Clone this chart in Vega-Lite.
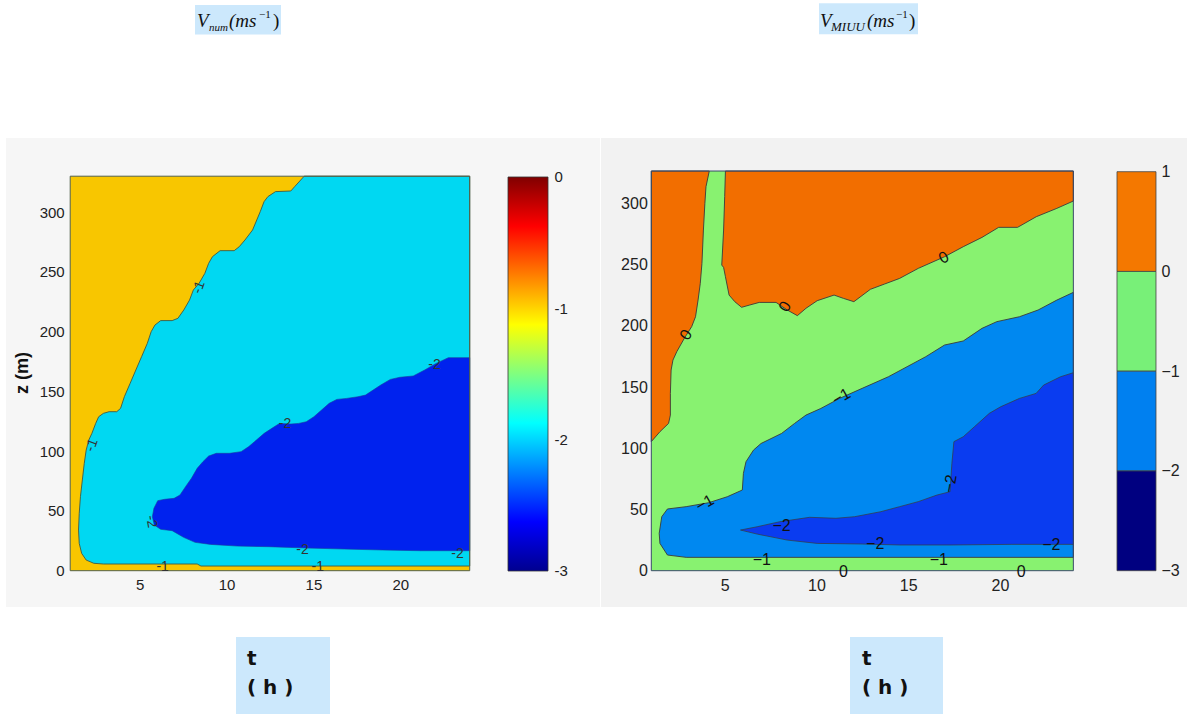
{
"$schema": "https://vega.github.io/schema/vega-lite/v6.json",
"background": "#ffffff",
"padding": 0,
"spacing": 0,
"bounds": "flush",
"config": {
  "view": {"stroke": null},
  "axis": {"grid": false, "domain": false, "ticks": false, "labelFont": "Liberation Sans", "labelColor": "#222222"}
},
"datasets": {
  "left_regions": [
    {"band":"L -1..0","t":1,"z":0},{"band":"L -1..0","t":24,"z":0},{"band":"L -1..0","t":24,"z":330},{"band":"L -1..0","t":1,"z":330},{"band":"L -1..0","t":1,"z":0},
    {"band":"L -2..-1","t":14.47,"z":330},{"band":"L -2..-1","t":13.92,"z":321.2},{"band":"L -2..-1","t":13.7,"z":317.6},{"band":"L -2..-1","t":12.82,"z":317.1},{"band":"L -2..-1","t":12.38,"z":312.9},{"band":"L -2..-1","t":12.16,"z":308.7},{"band":"L -2..-1","t":11.94,"z":300.3},{"band":"L -2..-1","t":11.5,"z":285},{"band":"L -2..-1","t":11.06,"z":276.6},{"band":"L -2..-1","t":10.73,"z":271},{"band":"L -2..-1","t":10.44,"z":267.7},{"band":"L -2..-1","t":9.63,"z":267.7},{"band":"L -2..-1","t":9.19,"z":262.7},{"band":"L -2..-1","t":8.97,"z":257.1},{"band":"L -2..-1","t":8.75,"z":248.7},{"band":"L -2..-1","t":8.42,"z":240.4},{"band":"L -2..-1","t":8.09,"z":234.8},{"band":"L -2..-1","t":7.87,"z":226.4},{"band":"L -2..-1","t":7.54,"z":218.1},{"band":"L -2..-1","t":7.2,"z":211.1},{"band":"L -2..-1","t":6.87,"z":209.2},{"band":"L -2..-1","t":6.21,"z":209.2},{"band":"L -2..-1","t":5.88,"z":205.5},{"band":"L -2..-1","t":5.66,"z":199.9},{"band":"L -2..-1","t":5.44,"z":190.2},{"band":"L -2..-1","t":5.11,"z":179},{"band":"L -2..-1","t":4.78,"z":167.9},{"band":"L -2..-1","t":4.45,"z":156.7},{"band":"L -2..-1","t":4.12,"z":145.6},{"band":"L -2..-1","t":3.9,"z":135.8},{"band":"L -2..-1","t":3.68,"z":133},{"band":"L -2..-1","t":3.24,"z":133},{"band":"L -2..-1","t":2.91,"z":131.6},{"band":"L -2..-1","t":2.64,"z":128.8},{"band":"L -2..-1","t":2.47,"z":123.3},{"band":"L -2..-1","t":2.25,"z":114.9},{"band":"L -2..-1","t":2.07,"z":109.3},{"band":"L -2..-1","t":1.92,"z":100.9},{"band":"L -2..-1","t":1.81,"z":89.8},{"band":"L -2..-1","t":1.7,"z":75.9},{"band":"L -2..-1","t":1.59,"z":61.9},{"band":"L -2..-1","t":1.52,"z":48},{"band":"L -2..-1","t":1.48,"z":34},{"band":"L -2..-1","t":1.52,"z":22.9},{"band":"L -2..-1","t":1.66,"z":14.5},{"band":"L -2..-1","t":1.92,"z":8.9},{"band":"L -2..-1","t":2.36,"z":6.2},{"band":"L -2..-1","t":2.91,"z":5.6},{"band":"L -2..-1","t":8.31,"z":5.6},{"band":"L -2..-1","t":8.53,"z":3.9},{"band":"L -2..-1","t":24,"z":3.9},{"band":"L -2..-1","t":24,"z":330},{"band":"L -2..-1","t":14.47,"z":330},
    {"band":"L -3..-2","t":24,"z":178.2},{"band":"L -3..-2","t":22.77,"z":178.2},{"band":"L -3..-2","t":22.07,"z":173.4},{"band":"L -3..-2","t":21.41,"z":167.9},{"band":"L -3..-2","t":20.75,"z":162.9},{"band":"L -3..-2","t":19.98,"z":161.8},{"band":"L -3..-2","t":19.43,"z":160},{"band":"L -3..-2","t":18.88,"z":155.3},{"band":"L -3..-2","t":18.44,"z":151.1},{"band":"L -3..-2","t":18,"z":146.9},{"band":"L -3..-2","t":17.56,"z":145.5},{"band":"L -3..-2","t":16.9,"z":144.1},{"band":"L -3..-2","t":16.35,"z":143.3},{"band":"L -3..-2","t":15.91,"z":140},{"band":"L -3..-2","t":15.47,"z":134.4},{"band":"L -3..-2","t":15.03,"z":128.8},{"band":"L -3..-2","t":14.59,"z":124.6},{"band":"L -3..-2","t":14.15,"z":123.2},{"band":"L -3..-2","t":13.71,"z":122.7},{"band":"L -3..-2","t":13.05,"z":123.2},{"band":"L -3..-2","t":12.61,"z":119.1},{"band":"L -3..-2","t":12.17,"z":114.9},{"band":"L -3..-2","t":11.72,"z":109.3},{"band":"L -3..-2","t":11.28,"z":103.8},{"band":"L -3..-2","t":10.84,"z":99.6},{"band":"L -3..-2","t":10.18,"z":98.2},{"band":"L -3..-2","t":9.41,"z":98.2},{"band":"L -3..-2","t":8.97,"z":95.9},{"band":"L -3..-2","t":8.64,"z":91.2},{"band":"L -3..-2","t":8.31,"z":85.6},{"band":"L -3..-2","t":7.98,"z":77.3},{"band":"L -3..-2","t":7.64,"z":70.3},{"band":"L -3..-2","t":7.32,"z":63.3},{"band":"L -3..-2","t":6.98,"z":60.5},{"band":"L -3..-2","t":6.43,"z":59.7},{"band":"L -3..-2","t":6.04,"z":58.6},{"band":"L -3..-2","t":5.82,"z":52.2},{"band":"L -3..-2","t":5.73,"z":45.2},{"band":"L -3..-2","t":5.84,"z":38.2},{"band":"L -3..-2","t":6.21,"z":34.6},{"band":"L -3..-2","t":6.87,"z":33.5},{"band":"L -3..-2","t":7.53,"z":27.9},{"band":"L -3..-2","t":8.19,"z":23.7},{"band":"L -3..-2","t":9.08,"z":22},{"band":"L -3..-2","t":10.62,"z":20.6},{"band":"L -3..-2","t":12.38,"z":20.1},{"band":"L -3..-2","t":14.59,"z":19},{"band":"L -3..-2","t":16.79,"z":18.1},{"band":"L -3..-2","t":18.99,"z":17.3},{"band":"L -3..-2","t":21.19,"z":16.7},{"band":"L -3..-2","t":24,"z":16.7},{"band":"L -3..-2","t":24,"z":178.2}
  ],
  "right_regions": [
    {"band":"R -1..0","t":1,"z":0},{"band":"R -1..0","t":24,"z":0},{"band":"R -1..0","t":24,"z":326.4},{"band":"R -1..0","t":1,"z":326.4},{"band":"R -1..0","t":1,"z":0},
    {"band":"R 0..1 a","t":1,"z":326.4},{"band":"R 0..1 a","t":4.16,"z":326.4},{"band":"R 0..1 a","t":3.98,"z":313.6},{"band":"R 0..1 a","t":3.92,"z":300},{"band":"R 0..1 a","t":3.84,"z":278.2},{"band":"R 0..1 a","t":3.76,"z":251},{"band":"R 0..1 a","t":3.67,"z":234.7},{"band":"R 0..1 a","t":3.55,"z":221.1},{"band":"R 0..1 a","t":3.41,"z":207.4},{"band":"R 0..1 a","t":3.2,"z":199.3},{"band":"R 0..1 a","t":2.8,"z":189.8},{"band":"R 0..1 a","t":2.39,"z":178.9},{"band":"R 0..1 a","t":2.18,"z":172},{"band":"R 0..1 a","t":2.08,"z":163.9},{"band":"R 0..1 a","t":2.04,"z":144.8},{"band":"R 0..1 a","t":2.04,"z":127.1},{"band":"R 0..1 a","t":1.94,"z":120.3},{"band":"R 0..1 a","t":1.47,"z":113.5},{"band":"R 0..1 a","t":1,"z":105.4},{"band":"R 0..1 a","t":1,"z":326.4},
    {"band":"R 0..1 b","t":5.04,"z":326.4},{"band":"R 0..1 b","t":5,"z":305.5},{"band":"R 0..1 b","t":4.94,"z":278.2},{"band":"R 0..1 b","t":4.84,"z":249.6},{"band":"R 0..1 b","t":4.94,"z":247.7},{"band":"R 0..1 b","t":5.04,"z":240.1},{"band":"R 0..1 b","t":5.24,"z":225.1},{"band":"R 0..1 b","t":5.55,"z":219.7},{"band":"R 0..1 b","t":5.92,"z":215.1},{"band":"R 0..1 b","t":6.37,"z":217},{"band":"R 0..1 b","t":6.88,"z":219.1},{"band":"R 0..1 b","t":7.8,"z":219.1},{"band":"R 0..1 b","t":8.41,"z":212.9},{"band":"R 0..1 b","t":8.96,"z":208.3},{"band":"R 0..1 b","t":9.43,"z":214.3},{"band":"R 0..1 b","t":10.04,"z":220.5},{"band":"R 0..1 b","t":10.96,"z":225.1},{"band":"R 0..1 b","t":11.47,"z":222.4},{"band":"R 0..1 b","t":12.04,"z":219.7},{"band":"R 0..1 b","t":12.94,"z":229.8},{"band":"R 0..1 b","t":13.71,"z":234.1},{"band":"R 0..1 b","t":14.53,"z":238.7},{"band":"R 0..1 b","t":15.55,"z":246.9},{"band":"R 0..1 b","t":16.98,"z":256.4},{"band":"R 0..1 b","t":18,"z":264.6},{"band":"R 0..1 b","t":19.02,"z":272.2},{"band":"R 0..1 b","t":19.93,"z":280.4},{"band":"R 0..1 b","t":20.96,"z":280.4},{"band":"R 0..1 b","t":21.98,"z":289.1},{"band":"R 0..1 b","t":23.1,"z":295.9},{"band":"R 0..1 b","t":24,"z":301.9},{"band":"R 0..1 b","t":24,"z":326.4},{"band":"R 0..1 b","t":5.04,"z":326.4},
    {"band":"R -2..-1","t":24,"z":227.3},{"band":"R -2..-1","t":23.1,"z":221},{"band":"R -2..-1","t":22.08,"z":212.9},{"band":"R -2..-1","t":21.06,"z":207.4},{"band":"R -2..-1","t":19.83,"z":203.4},{"band":"R -2..-1","t":19.02,"z":197.9},{"band":"R -2..-1","t":18,"z":187.6},{"band":"R -2..-1","t":16.98,"z":184.3},{"band":"R -2..-1","t":15.96,"z":174.8},{"band":"R -2..-1","t":14.94,"z":166.6},{"band":"R -2..-1","t":13.92,"z":158.4},{"band":"R -2..-1","t":12.49,"z":148.9},{"band":"R -2..-1","t":11.26,"z":140.7},{"band":"R -2..-1","t":10.24,"z":132.5},{"band":"R -2..-1","t":9.43,"z":127.1},{"band":"R -2..-1","t":8.81,"z":120.3},{"band":"R -2..-1","t":8.1,"z":112.1},{"band":"R -2..-1","t":6.98,"z":103.9},{"band":"R -2..-1","t":6.57,"z":98.5},{"band":"R -2..-1","t":6.16,"z":89},{"band":"R -2..-1","t":6.02,"z":79.5},{"band":"R -2..-1","t":5.96,"z":65.9},{"band":"R -2..-1","t":5.14,"z":60.4},{"band":"R -2..-1","t":4.12,"z":55.5},{"band":"R -2..-1","t":2.9,"z":52.3},{"band":"R -2..-1","t":1.88,"z":50.4},{"band":"R -2..-1","t":1.57,"z":44.1},{"band":"R -2..-1","t":1.43,"z":30.5},{"band":"R -2..-1","t":1.47,"z":22.3},{"band":"R -2..-1","t":1.88,"z":12.8},{"band":"R -2..-1","t":2.9,"z":10.9},{"band":"R -2..-1","t":24,"z":10.9},{"band":"R -2..-1","t":24,"z":227.3},
    {"band":"R -3..-2","t":24,"z":161.7},{"band":"R -3..-2","t":23.3,"z":158.4},{"band":"R -3..-2","t":22.38,"z":151.6},{"band":"R -3..-2","t":21.97,"z":144.8},{"band":"R -3..-2","t":21.06,"z":140.7},{"band":"R -3..-2","t":20.04,"z":133.9},{"band":"R -3..-2","t":19.42,"z":128.5},{"band":"R -3..-2","t":18.61,"z":117.6},{"band":"R -3..-2","t":18,"z":109.4},{"band":"R -3..-2","t":17.49,"z":105.4},{"band":"R -3..-2","t":17.38,"z":87.6},{"band":"R -3..-2","t":17.28,"z":64.5},{"band":"R -3..-2","t":16.57,"z":61.8},{"band":"R -3..-2","t":15.55,"z":56.4},{"band":"R -3..-2","t":14.53,"z":52.3},{"band":"R -3..-2","t":13.51,"z":48.2},{"band":"R -3..-2","t":12.08,"z":44.1},{"band":"R -3..-2","t":11.06,"z":42.8},{"band":"R -3..-2","t":9.63,"z":43.6},{"band":"R -3..-2","t":8,"z":40},{"band":"R -3..-2","t":6.77,"z":35.9},{"band":"R -3..-2","t":5.86,"z":33.2},{"band":"R -3..-2","t":6.77,"z":29.9},{"band":"R -3..-2","t":8.41,"z":25},{"band":"R -3..-2","t":10.04,"z":22.3},{"band":"R -3..-2","t":12.49,"z":21.8},{"band":"R -3..-2","t":14.53,"z":21},{"band":"R -3..-2","t":17.38,"z":21},{"band":"R -3..-2","t":20.65,"z":21.5},{"band":"R -3..-2","t":24,"z":21.5},{"band":"R -3..-2","t":24,"z":161.7}
  ],
  "left_labels_flat": [
    {"t":21.97,"z":172,"label":"-2"},{"t":13.37,"z":122.7,"label":"-2"},{"t":14.37,"z":17,"label":"-2"},{"t":23.3,"z":14,"label":"-2"},{"t":6.32,"z":3,"label":"-1"},{"t":15.25,"z":2.8,"label":"-1"}
  ],
  "left_labels_steep": [
    {"t":2.25,"z":105,"label":"-1"},{"t":8.42,"z":237,"label":"-1"}
  ],
  "left_labels_vert": [
    {"t":5.66,"z":41,"label":"-2"}
  ],
  "right_labels_flat": [
    {"t":8.1,"z":36.5,"label":"−2"},{"t":13.2,"z":21.8,"label":"−2"},{"t":22.8,"z":21,"label":"−2"},{"t":7.02,"z":8.7,"label":"−1"},{"t":16.67,"z":8.7,"label":"−1"},{"t":11.47,"z":-1,"label":"0"},{"t":21.16,"z":-1,"label":"0"}
  ],
  "right_labels_tilt": [
    {"t":11.36,"z":142,"label":"−1"},{"t":3.92,"z":55,"label":"−1"},{"t":16.94,"z":255.6,"label":"0"}
  ],
  "right_labels_steep": [
    {"t":2.9,"z":192.5,"label":"0"},{"t":8.3,"z":215.6,"label":"0"}
  ],
  "right_labels_vert": [
    {"t":17.3,"z":71,"label":"−2"}
  ],
  "left_cb": [{"lo":-3,"hi":0}],
  "right_cb": [
    {"lo":0,"hi":1,"band":"CB 0..1"},{"lo":-1,"hi":0,"band":"CB -1..0"},{"lo":-2,"hi":-1,"band":"CB -2..-1"},{"lo":-3,"hi":-2,"band":"CB -3..-2"}
  ]
},
"hconcat": [
  {
    "width": 600,
    "height": 714,
    "resolve": {"scale": {"x": "independent", "y": "independent"}},
    "layer": [
      {
        "layer": [
          {"data": {"values": [{}]}, "mark": {"type": "rect", "fill": "#f6f6f6"},
           "encoding": {"x": {"datum": -2.696, "type": "quantitative", "axis": null, "scale": {"domain": [-3.0415, 31.501], "nice": false, "zero": false}}, "x2": {"datum": 31.5}, "y": {"datum": -30.36, "type": "quantitative", "axis": null, "scale": {"domain": [-119.87, 477.38], "nice": false, "zero": false}}, "y2": {"datum": 361.9}}},
          {"data": {"values": [{}]}, "mark": {"type": "rect", "fill": "#cce8fc"},
           "encoding": {"x": {"datum": 8.185, "type": "quantitative", "axis": null}, "x2": {"datum": 13.136}, "y": {"datum": 448.5, "type": "quantitative", "axis": null}, "y2": {"datum": 473.2}}},
          {"data": {"values": [{}]}, "mark": {"type": "text", "text": "V", "align": "left", "baseline": "alphabetic", "font": "Liberation Serif", "fontStyle": "italic", "fontSize": 19, "color": "#111111"},
           "encoding": {"x": {"datum": 8.3, "type": "quantitative", "axis": null}, "y": {"datum": 454.8, "type": "quantitative", "axis": null}}},
          {"data": {"values": [{}]}, "mark": {"type": "text", "text": "num", "dx": 12, "dy": 4, "align": "left", "baseline": "alphabetic", "font": "Liberation Serif", "fontStyle": "italic", "fontSize": 11, "color": "#111111"},
           "encoding": {"x": {"datum": 8.3, "type": "quantitative", "axis": null}, "y": {"datum": 454.8, "type": "quantitative", "axis": null}}},
          {"data": {"values": [{}]}, "mark": {"type": "text", "text": "(ms", "dx": 32, "align": "left", "baseline": "alphabetic", "font": "Liberation Serif", "fontStyle": "italic", "fontSize": 19, "color": "#111111"},
           "encoding": {"x": {"datum": 8.3, "type": "quantitative", "axis": null}, "y": {"datum": 454.8, "type": "quantitative", "axis": null}}},
          {"data": {"values": [{}]}, "mark": {"type": "text", "text": "−1", "dx": 62, "dy": -9, "align": "left", "baseline": "alphabetic", "font": "Liberation Serif", "fontSize": 11, "color": "#111111"},
           "encoding": {"x": {"datum": 8.3, "type": "quantitative", "axis": null}, "y": {"datum": 454.8, "type": "quantitative", "axis": null}}},
          {"data": {"values": [{}]}, "mark": {"type": "text", "text": ")", "dx": 76, "align": "left", "baseline": "alphabetic", "font": "Liberation Serif", "fontSize": 19, "color": "#111111"},
           "encoding": {"x": {"datum": 8.3, "type": "quantitative", "axis": null}, "y": {"datum": 454.8, "type": "quantitative", "axis": null}}},
          {"data": {"values": [{}]}, "mark": {"type": "rect", "fill": "#cce8fc"},
           "encoding": {"x": {"datum": 10.545, "type": "quantitative", "axis": null}, "x2": {"datum": 15.957}, "y": {"datum": -119.8, "type": "quantitative", "axis": null}, "y2": {"datum": -55.46}}},
          {"data": {"values": [{}]}, "mark": {"type": "text", "text": ["t", "( h )"], "lineHeight": 29, "align": "left", "baseline": "alphabetic", "font": "DejaVu Sans", "fontWeight": "bold", "fontSize": 20, "color": "#111111"},
           "encoding": {"x": {"datum": 11.178, "type": "quantitative", "axis": null}, "y": {"datum": -78.88, "type": "quantitative", "axis": null}}},
          {"data": {"values": [{}]}, "mark": {"type": "text", "text": "z (m)", "angle": 270, "align": "center", "baseline": "middle", "font": "Liberation Sans", "fontWeight": "bold", "fontSize": 18, "color": "#111111"},
           "encoding": {"x": {"datum": -1.717, "type": "quantitative", "axis": null}, "y": {"datum": 165.3, "type": "quantitative", "axis": null}}},
          {"data": {"name": "left_regions"}, "transform": [{"filter": "datum.band === 'L -1..0'"}],
           "mark": {"type": "line", "filled": true, "interpolate": "linear", "strokeWidth": 0},
           "encoding": {
             "x": {"field": "t", "type": "quantitative", "axis": null},
             "y": {"field": "z", "type": "quantitative", "axis": null},
             "order": {"value": null},
             "color": {"field": "band", "type": "nominal", "legend": null, "scale": {"domain": ["L -1..0","L -2..-1","L -3..-2","R -1..0","R 0..1 a","R 0..1 b","R -2..-1","R -3..-2","CB 0..1","CB -1..0","CB -2..-1","CB -3..-2"], "range": ["#f8c600","#00d8f2","#0022ee","#88f270","#f26e00","#f26e00","#0088f0","#0a3cf0","#f47800","#78f078","#0080f0","#000080"]}}
           }},
          {"data": {"name": "left_regions"}, "transform": [{"filter": "datum.band === 'L -2..-1'"}],
           "mark": {"type": "line", "filled": true, "interpolate": "linear", "stroke": "#3f5a45", "strokeWidth": 0.9},
           "encoding": {
             "x": {"field": "t", "type": "quantitative", "axis": null},
             "y": {"field": "z", "type": "quantitative", "axis": null},
             "order": {"value": null},
             "color": {"field": "band", "type": "nominal", "legend": null, "scale": {"domain": ["L -1..0","L -2..-1","L -3..-2","R -1..0","R 0..1 a","R 0..1 b","R -2..-1","R -3..-2","CB 0..1","CB -1..0","CB -2..-1","CB -3..-2"], "range": ["#f8c600","#00d8f2","#0022ee","#88f270","#f26e00","#f26e00","#0088f0","#0a3cf0","#f47800","#78f078","#0080f0","#000080"]}}
           }},
          {"data": {"name": "left_regions"}, "transform": [{"filter": "datum.band === 'L -3..-2'"}],
           "mark": {"type": "line", "filled": true, "interpolate": "linear", "stroke": "#1a3a9a", "strokeWidth": 0.6},
           "encoding": {
             "x": {"field": "t", "type": "quantitative", "axis": null},
             "y": {"field": "z", "type": "quantitative", "axis": null},
             "order": {"value": null},
             "color": {"field": "band", "type": "nominal", "legend": null, "scale": {"domain": ["L -1..0","L -2..-1","L -3..-2","R -1..0","R 0..1 a","R 0..1 b","R -2..-1","R -3..-2","CB 0..1","CB -1..0","CB -2..-1","CB -3..-2"], "range": ["#f8c600","#00d8f2","#0022ee","#88f270","#f26e00","#f26e00","#0088f0","#0a3cf0","#f47800","#78f078","#0080f0","#000080"]}}
           }},
          {"data": {"values": [{}]}, "mark": {"type": "rect", "filled": false, "stroke": "#52604a", "strokeWidth": 1},
           "encoding": {"x": {"datum": 1, "type": "quantitative", "axis": null}, "x2": {"datum": 24}, "y": {"datum": 0, "type": "quantitative", "axis": null}, "y2": {"datum": 330}}},
          {"data": {"name": "left_labels_flat"}, "mark": {"type": "text", "align": "center", "baseline": "middle", "font": "Liberation Sans", "fontSize": 14, "color": "#333333"},
           "encoding": {"x": {"field": "t", "type": "quantitative", "axis": null}, "y": {"field": "z", "type": "quantitative", "axis": null}, "text": {"field": "label"}}},
          {"data": {"name": "left_labels_steep"}, "mark": {"type": "text", "angle": 290, "align": "center", "baseline": "middle", "font": "Liberation Sans", "fontSize": 14, "color": "#333333"},
           "encoding": {"x": {"field": "t", "type": "quantitative", "axis": null}, "y": {"field": "z", "type": "quantitative", "axis": null}, "text": {"field": "label"}}},
          {"data": {"name": "left_labels_vert"}, "mark": {"type": "text", "angle": 80, "align": "center", "baseline": "middle", "font": "Liberation Sans", "fontSize": 14, "color": "#333333"},
           "encoding": {"x": {"field": "t", "type": "quantitative", "axis": null}, "y": {"field": "z", "type": "quantitative", "axis": null}, "text": {"field": "label"}}}
        ]
      },
      {
        "layer": [
          {"data": {"values": [{}]}, "mark": {"type": "point", "opacity": 0},
           "encoding": {
             "x": {"datum": 1, "type": "quantitative", "scale": {"domain": [-3.0415, 31.501], "nice": false, "zero": false}, "axis": {"orient": "bottom", "offset": -143.3, "values": [5, 10, 15, 20], "labelFontSize": 15, "labelPadding": 7, "zindex": 3, "title": null}},
             "y": {"datum": 0, "type": "quantitative", "scale": {"domain": [-119.87, 477.38], "nice": false, "zero": false}, "axis": {"orient": "left", "offset": -70.2, "values": [0, 50, 100, 150, 200, 250, 300], "labelFontSize": 15, "labelPadding": 6, "zindex": 3, "title": null}}
           }}
        ]
      },
      {
        "layer": [
          {"data": {"name": "left_cb"},
           "mark": {"type": "rect", "stroke": "#333333", "strokeWidth": 0.8,
                    "fill": {"gradient": "linear", "x1": 0, "y1": 1, "x2": 0, "y2": 0,
                             "stops": [{"offset": 0, "color": "#00008f"}, {"offset": 0.125, "color": "#0000ff"}, {"offset": 0.375, "color": "#00ffff"}, {"offset": 0.625, "color": "#ffff00"}, {"offset": 0.875, "color": "#ff0000"}, {"offset": 1, "color": "#800000"}]}},
           "encoding": {
             "x": {"datum": 0, "type": "quantitative", "scale": {"domain": [-12.7, 2.3], "nice": false, "zero": false}, "axis": null},
             "x2": {"datum": 1},
             "y": {"field": "lo", "type": "quantitative", "scale": {"domain": [-4.0889, 1.3477], "nice": false, "zero": false}, "axis": {"orient": "right", "offset": -52, "values": [-3, -2, -1, 0], "labelExpr": "'' + datum.value", "labelFontSize": 15, "labelPadding": 6, "zindex": 3, "title": null}},
             "y2": {"field": "hi"}
           }}
        ]
      }
    ]
  },
  {
    "width": 587,
    "height": 714,
    "resolve": {"scale": {"x": "independent", "y": "independent"}},
    "layer": [
      {
        "layer": [
          {"data": {"values": [{}]}, "mark": {"type": "rect", "fill": "#f2f2f2"},
           "encoding": {"x": {"datum": -1.741, "type": "quantitative", "axis": null, "scale": {"domain": [-1.7956, 30.193], "nice": false, "zero": false}}, "x2": {"datum": 30.19}, "y": {"datum": -29.64, "type": "quantitative", "axis": null, "scale": {"domain": [-117.03, 466.07], "nice": false, "zero": false}}, "y2": {"datum": 353.4}}},
          {"data": {"values": [{}]}, "mark": {"type": "rect", "fill": "#cce8fc"},
           "encoding": {"x": {"datum": 10.139, "type": "quantitative", "axis": null}, "x2": {"datum": 15.534}, "y": {"datum": 438.1, "type": "quantitative", "axis": null}, "y2": {"datum": 463.4}}},
          {"data": {"values": [{}]}, "mark": {"type": "text", "text": "V", "align": "left", "baseline": "alphabetic", "font": "Liberation Serif", "fontStyle": "italic", "fontSize": 19, "color": "#111111"},
           "encoding": {"x": {"datum": 10.193, "type": "quantitative", "axis": null}, "y": {"datum": 444.3, "type": "quantitative", "axis": null}}},
          {"data": {"values": [{}]}, "mark": {"type": "text", "text": "MIUU", "dx": 11, "dy": 4, "align": "left", "baseline": "alphabetic", "font": "Liberation Serif", "fontStyle": "italic", "fontSize": 13, "color": "#111111"},
           "encoding": {"x": {"datum": 10.193, "type": "quantitative", "axis": null}, "y": {"datum": 444.3, "type": "quantitative", "axis": null}}},
          {"data": {"values": [{}]}, "mark": {"type": "text", "text": "(ms", "dx": 47, "align": "left", "baseline": "alphabetic", "font": "Liberation Serif", "fontStyle": "italic", "fontSize": 19, "color": "#111111"},
           "encoding": {"x": {"datum": 10.193, "type": "quantitative", "axis": null}, "y": {"datum": 444.3, "type": "quantitative", "axis": null}}},
          {"data": {"values": [{}]}, "mark": {"type": "text", "text": "−1", "dx": 76, "dy": -9, "align": "left", "baseline": "alphabetic", "font": "Liberation Serif", "fontSize": 11, "color": "#111111"},
           "encoding": {"x": {"datum": 10.193, "type": "quantitative", "axis": null}, "y": {"datum": 444.3, "type": "quantitative", "axis": null}}},
          {"data": {"values": [{}]}, "mark": {"type": "text", "text": ")", "dx": 89, "align": "left", "baseline": "alphabetic", "font": "Liberation Serif", "fontSize": 19, "color": "#111111"},
           "encoding": {"x": {"datum": 10.193, "type": "quantitative", "axis": null}, "y": {"datum": 444.3, "type": "quantitative", "axis": null}}},
          {"data": {"values": [{}]}, "mark": {"type": "rect", "fill": "#cce8fc"},
           "encoding": {"x": {"datum": 11.828, "type": "quantitative", "axis": null}, "x2": {"datum": 16.896}, "y": {"datum": -117.0, "type": "quantitative", "axis": null}, "y2": {"datum": -54.14}}},
          {"data": {"values": [{}]}, "mark": {"type": "text", "text": ["t", "( h )"], "lineHeight": 29, "align": "left", "baseline": "alphabetic", "font": "DejaVu Sans", "fontWeight": "bold", "fontSize": 20, "color": "#111111"},
           "encoding": {"x": {"datum": 12.482, "type": "quantitative", "axis": null}, "y": {"datum": -77.03, "type": "quantitative", "axis": null}}},
          {"data": {"name": "right_regions"}, "transform": [{"filter": "datum.band === 'R -1..0'"}],
           "mark": {"type": "line", "filled": true, "interpolate": "linear", "strokeWidth": 0},
           "encoding": {
             "x": {"field": "t", "type": "quantitative", "axis": null},
             "y": {"field": "z", "type": "quantitative", "axis": null},
             "order": {"value": null},
             "color": {"field": "band", "type": "nominal", "legend": null, "scale": {"domain": ["L -1..0","L -2..-1","L -3..-2","R -1..0","R 0..1 a","R 0..1 b","R -2..-1","R -3..-2","CB 0..1","CB -1..0","CB -2..-1","CB -3..-2"], "range": ["#f8c600","#00d8f2","#0022ee","#88f270","#f26e00","#f26e00","#0088f0","#0a3cf0","#f47800","#78f078","#0080f0","#000080"]}}
           }},
          {"data": {"name": "right_regions"}, "transform": [{"filter": "datum.band === 'R 0..1 a' || datum.band === 'R 0..1 b'"}],
           "mark": {"type": "line", "filled": true, "interpolate": "linear", "stroke": "#3a3a3a", "strokeWidth": 0.9},
           "encoding": {
             "x": {"field": "t", "type": "quantitative", "axis": null},
             "y": {"field": "z", "type": "quantitative", "axis": null},
             "order": {"value": null},
             "detail": {"field": "band"},
             "color": {"field": "band", "type": "nominal", "legend": null, "scale": {"domain": ["L -1..0","L -2..-1","L -3..-2","R -1..0","R 0..1 a","R 0..1 b","R -2..-1","R -3..-2","CB 0..1","CB -1..0","CB -2..-1","CB -3..-2"], "range": ["#f8c600","#00d8f2","#0022ee","#88f270","#f26e00","#f26e00","#0088f0","#0a3cf0","#f47800","#78f078","#0080f0","#000080"]}}
           }},
          {"data": {"name": "right_regions"}, "transform": [{"filter": "datum.band === 'R -2..-1'"}],
           "mark": {"type": "line", "filled": true, "interpolate": "linear", "stroke": "#3a3a3a", "strokeWidth": 0.9},
           "encoding": {
             "x": {"field": "t", "type": "quantitative", "axis": null},
             "y": {"field": "z", "type": "quantitative", "axis": null},
             "order": {"value": null},
             "color": {"field": "band", "type": "nominal", "legend": null, "scale": {"domain": ["L -1..0","L -2..-1","L -3..-2","R -1..0","R 0..1 a","R 0..1 b","R -2..-1","R -3..-2","CB 0..1","CB -1..0","CB -2..-1","CB -3..-2"], "range": ["#f8c600","#00d8f2","#0022ee","#88f270","#f26e00","#f26e00","#0088f0","#0a3cf0","#f47800","#78f078","#0080f0","#000080"]}}
           }},
          {"data": {"name": "right_regions"}, "transform": [{"filter": "datum.band === 'R -3..-2'"}],
           "mark": {"type": "line", "filled": true, "interpolate": "linear", "stroke": "#3a3a3a", "strokeWidth": 0.7},
           "encoding": {
             "x": {"field": "t", "type": "quantitative", "axis": null},
             "y": {"field": "z", "type": "quantitative", "axis": null},
             "order": {"value": null},
             "color": {"field": "band", "type": "nominal", "legend": null, "scale": {"domain": ["L -1..0","L -2..-1","L -3..-2","R -1..0","R 0..1 a","R 0..1 b","R -2..-1","R -3..-2","CB 0..1","CB -1..0","CB -2..-1","CB -3..-2"], "range": ["#f8c600","#00d8f2","#0022ee","#88f270","#f26e00","#f26e00","#0088f0","#0a3cf0","#f47800","#78f078","#0080f0","#000080"]}}
           }},
          {"data": {"values": [{}]}, "mark": {"type": "rect", "filled": false, "stroke": "#3a4a6a", "strokeWidth": 1},
           "encoding": {"x": {"datum": 1, "type": "quantitative", "axis": null}, "x2": {"datum": 24}, "y": {"datum": 0, "type": "quantitative", "axis": null}, "y2": {"datum": 326.4}}},
          {"data": {"name": "right_labels_flat"}, "mark": {"type": "text", "align": "center", "baseline": "middle", "font": "Liberation Sans", "fontSize": 16, "color": "#111111"},
           "encoding": {"x": {"field": "t", "type": "quantitative", "axis": null}, "y": {"field": "z", "type": "quantitative", "axis": null}, "text": {"field": "label"}}},
          {"data": {"name": "right_labels_tilt"}, "mark": {"type": "text", "angle": 330, "align": "center", "baseline": "middle", "font": "Liberation Sans", "fontSize": 16, "color": "#111111"},
           "encoding": {"x": {"field": "t", "type": "quantitative", "axis": null}, "y": {"field": "z", "type": "quantitative", "axis": null}, "text": {"field": "label"}}},
          {"data": {"name": "right_labels_steep"}, "mark": {"type": "text", "angle": 300, "align": "center", "baseline": "middle", "font": "Liberation Sans", "fontSize": 16, "color": "#111111"},
           "encoding": {"x": {"field": "t", "type": "quantitative", "axis": null}, "y": {"field": "z", "type": "quantitative", "axis": null}, "text": {"field": "label"}}},
          {"data": {"name": "right_labels_vert"}, "mark": {"type": "text", "angle": 280, "align": "center", "baseline": "middle", "font": "Liberation Sans", "fontSize": 16, "color": "#111111"},
           "encoding": {"x": {"field": "t", "type": "quantitative", "axis": null}, "y": {"field": "z", "type": "quantitative", "axis": null}, "text": {"field": "label"}}}
        ]
      },
      {
        "layer": [
          {"data": {"values": [{}]}, "mark": {"type": "point", "opacity": 0},
           "encoding": {
             "x": {"datum": 1, "type": "quantitative", "scale": {"domain": [-1.7956, 30.193], "nice": false, "zero": false}, "axis": {"orient": "bottom", "offset": -143.3, "values": [5, 10, 15, 20], "labelFontSize": 16, "labelPadding": 7, "zindex": 3, "title": null}},
             "y": {"datum": 0, "type": "quantitative", "scale": {"domain": [-117.03, 466.07], "nice": false, "zero": false}, "axis": {"orient": "left", "offset": -51.3, "values": [0, 50, 100, 150, 200, 250, 300], "labelFontSize": 16, "labelPadding": 4, "zindex": 3, "title": null}}
           }}
        ]
      },
      {
        "layer": [
          {"data": {"name": "right_cb"},
           "mark": {"type": "rect", "stroke": "#444444", "strokeWidth": 0.8},
           "encoding": {
             "x": {"datum": 0, "type": "quantitative", "scale": {"domain": [-13.256, 1.795], "nice": false, "zero": false}, "axis": null},
             "x2": {"datum": 1},
             "y": {"field": "lo", "type": "quantitative", "scale": {"domain": [-4.4366, 2.7213], "nice": false, "zero": false}, "axis": {"orient": "right", "offset": -31, "values": [-3, -2, -1, 0, 1], "labelExpr": "replace('' + datum.value, '-', '−')", "labelFontSize": 16, "labelPadding": 5, "zindex": 3, "title": null}},
             "y2": {"field": "hi"},
             "color": {"field": "band", "type": "nominal", "legend": null, "scale": {"domain": ["L -1..0","L -2..-1","L -3..-2","R -1..0","R 0..1 a","R 0..1 b","R -2..-1","R -3..-2","CB 0..1","CB -1..0","CB -2..-1","CB -3..-2"], "range": ["#f8c600","#00d8f2","#0022ee","#88f270","#f26e00","#f26e00","#0088f0","#0a3cf0","#f47800","#78f078","#0080f0","#000080"]}}
           }}
        ]
      }
    ]
  }
]
}
